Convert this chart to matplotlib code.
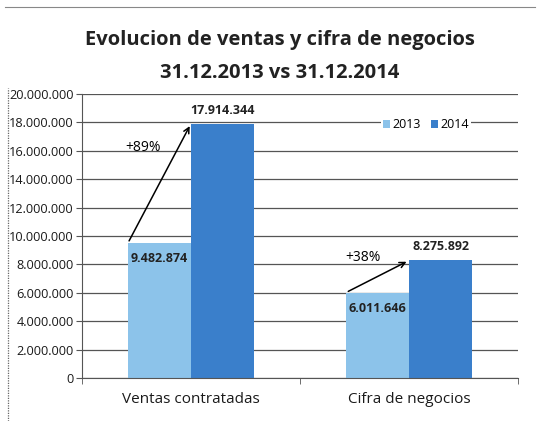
import numpy as np
import matplotlib.pyplot as plt
from matplotlib.ticker import FuncFormatter

categories = ['Ventas contratadas', 'Cifra de negocios']
years = ['2013', '2014']
values_2013 = [9482874, 6011646]
values_2014 = [17914344, 8275892]
growth = ['+89%', '+38%']

c13 = '#8cc3ea'
c14 = '#3a7fcb'

plt.rcParams['font.family'] = ['Open Sans', 'DejaVu Sans']

fig = plt.figure(figsize=(5.4, 4.21), dpi=100)
ax = fig.add_axes([82 / 540, 1 - 378 / 421, 436 / 540, 284 / 421])

x = np.arange(len(categories))
width = 0.29
ax.bar(x - width / 2, values_2013, width, color=c13, label=years[0], zorder=2)
ax.bar(x + width / 2, values_2014, width, color=c14, label=years[1], zorder=2)

ax.set_xlim(-0.5, 1.5)
ax.set_ylim(0, 20000000)
ax.set_yticks(np.arange(0, 20000001, 2000000))
ax.yaxis.set_major_formatter(FuncFormatter(
    lambda v, p: f'{int(v):,}'.replace(',', '.')))
ax.grid(axis='y', color='#555555', linewidth=0.9, zorder=0)
ax.tick_params(axis='y', labelsize=9.2, length=4, color='#555555', pad=2,
               labelcolor='#1a1a1a')
ax.set_xticks(x, categories)
ax.set_xticks([-0.5, 0.5, 1.5], minor=True)
ax.tick_params(axis='x', which='major', length=0, labelsize=11, pad=10,
               labelcolor='#1a1a1a')
ax.tick_params(axis='x', which='minor', length=4, color='#555555')
for s in ['top', 'right']:
    ax.spines[s].set_visible(False)
ax.spines['left'].set_color('#555555')
ax.spines['bottom'].set_color('#555555')

# data labels
for i in range(len(categories)):
    ax.text(x[i] - width / 2, values_2013[i] - 1100000,
            f'{values_2013[i]:,}'.replace(',', '.'), ha='center',
            va='center', fontsize=9, fontweight='bold', color='#222222',
            zorder=3)
    ax.text(x[i] + width / 2, values_2014[i] + 500000,
            f'{values_2014[i]:,}'.replace(',', '.'), ha='center',
            va='bottom', fontsize=9, fontweight='bold', color='#222222',
            zorder=3)
    # growth arrows
    ax.annotate('', xy=(x[i], values_2014[i]),
                xytext=(x[i] - width, values_2013[i]),
                arrowprops=dict(arrowstyle='->', color='black', lw=1.1),
                zorder=4)

ax.text(-0.22, 16200000, growth[0], ha='center', va='center', fontsize=10,
        zorder=3)
ax.text(0.79, 8500000, growth[1], ha='center', va='center', fontsize=10,
        zorder=3)

leg = ax.legend(loc='center', bbox_to_anchor=(426 / 540 * 540 / 436 - 82 / 436,
                                               (378 - 125) / 284),
                ncols=2, frameon=True, edgecolor='none', facecolor='white',
                framealpha=1, fontsize=9, handlelength=0.6, handleheight=0.6,
                handletextpad=0.2, columnspacing=0.8, borderpad=0.1)

fig.text(280 / 540, 1 - 40 / 421, 'Evolucion de ventas y cifra de negocios',
         ha='center', va='center', fontsize=14.5, fontweight='bold',
         color='#222222')
fig.text(280 / 540, 1 - 73 / 421, '31.12.2013 vs 31.12.2014',
         ha='center', va='center', fontsize=14.5, fontweight='bold',
         color='#222222')

# scanned frame on left and top
fig.add_artist(plt.Line2D([7.5 / 540, 7.5 / 540], [0, 1 - 88 / 421],
                          color='#666666', lw=0.9, ls=(0, (1, 1))))
fig.add_artist(plt.Line2D([5 / 540, 535 / 540], [1 - 6.5 / 421, 1 - 6.5 / 421],
                          color='#888888', lw=0.8))

fig.savefig('out.png', dpi=100)
